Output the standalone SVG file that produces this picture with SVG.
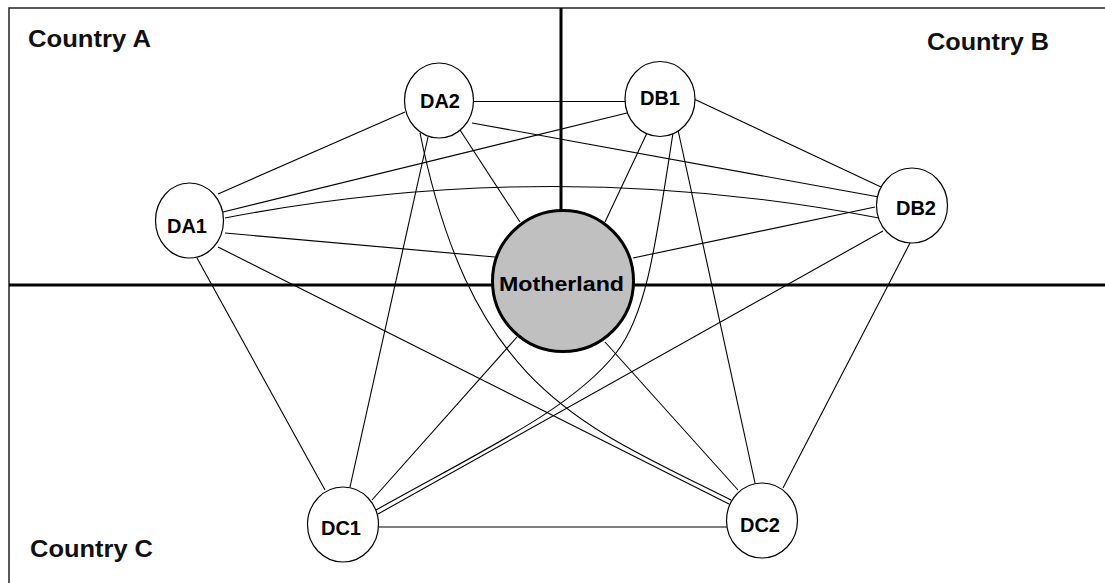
<svg xmlns="http://www.w3.org/2000/svg" width="1105" height="583" viewBox="0 0 1105 583">
  <defs>
    <style>
      .frame { fill: none; stroke: #222; stroke-width: 1.5; }
      .axis { fill: none; stroke: #000; stroke-width: 3; }
      .edge { fill: none; stroke: #000; stroke-width: 1.1; }
      .node ellipse { fill: #fff; stroke: #000; stroke-width: 1.2; }
      .hub circle { fill: #c0c0c0; stroke: #000; stroke-width: 3; }
      .label { font-family: "Liberation Sans", Arial, sans-serif; font-weight: bold; font-size: 20px; text-anchor: middle; fill: #000; }
      .region { font-family: "Liberation Sans", Arial, sans-serif; font-weight: bold; font-size: 23px; fill: #111; }
    </style>
  </defs>

  <rect x="0" y="0" width="1105" height="583" fill="#fff"/>

  <!-- outer frame (open to the right and bottom) -->
  <path class="frame" d="M9,583 V8 H1105"/>

  <!-- country dividers -->
  <g id="dividers">
    <line class="axis" x1="9" y1="285" x2="1105" y2="285"/>
    <line class="axis" x1="561" y1="8" x2="561" y2="212"/>
  </g>

  <!-- region captions -->
  <g id="regions">
    <text class="region" x="28" y="47" textLength="123" lengthAdjust="spacingAndGlyphs">Country A</text>
    <text class="region" x="927" y="50" textLength="122" lengthAdjust="spacingAndGlyphs">Country B</text>
    <text class="region" x="30" y="557" textLength="123" lengthAdjust="spacingAndGlyphs">Country C</text>
  </g>

  <!-- connectors: every pair of nodes is linked -->
  <g id="connectors">
    <line class="edge" x1="218" y1="194" x2="405" y2="112"/>   <!-- DA1-DA2 -->
    <line class="edge" x1="223" y1="212" x2="627" y2="113"/>   <!-- DA1-DB1 -->
    <path class="edge" d="M225,218 Q552,155 879,218"/>          <!-- DA1-DB2 -->
    <line class="edge" x1="197" y1="258" x2="325" y2="490"/>   <!-- DA1-DC1 -->
    <line class="edge" x1="218" y1="247" x2="729" y2="504"/>   <!-- DA1-DC2 -->
    <line class="edge" x1="225" y1="233" x2="495" y2="257"/>   <!-- DA1-Motherland -->
    <line class="edge" x1="473" y1="101.5" x2="625" y2="101.5"/> <!-- DA2-DB1 -->
    <line class="edge" x1="472" y1="123" x2="879" y2="197"/>   <!-- DA2-DB2 -->
    <line class="edge" x1="428" y1="137" x2="350" y2="487"/>   <!-- DA2-DC1 -->
    <path class="edge" d="M420,133 C472,388 579,424 731,500"/>  <!-- DA2-DC2 -->
    <line class="edge" x1="460" y1="130" x2="520" y2="222"/>   <!-- DA2-Motherland -->
    <line class="edge" x1="695" y1="99.5" x2="881" y2="187"/>  <!-- DB1-DB2 -->
    <path class="edge" d="M673,133 C656,242 647,314 616,353 C572.7,408 489.5,446.6 376,510"/> <!-- DB1-DC1 -->
    <line class="edge" x1="678" y1="130" x2="755" y2="483"/>   <!-- DB1-DC2 -->
    <line class="edge" x1="647" y1="133" x2="605" y2="222"/>   <!-- DB1-Motherland -->
    <line class="edge" x1="883" y1="231" x2="378" y2="514"/>   <!-- DB2-DC1 -->
    <line class="edge" x1="910" y1="243" x2="783" y2="488"/>   <!-- DB2-DC2 -->
    <line class="edge" x1="875" y1="207" x2="633" y2="258"/>   <!-- DB2-Motherland -->
    <line class="edge" x1="379" y1="527" x2="727" y2="527"/>   <!-- DC1-DC2 -->
    <line class="edge" x1="372" y1="500" x2="517" y2="337"/>   <!-- DC1-Motherland -->
    <line class="edge" x1="738" y1="490" x2="605" y2="342"/>   <!-- DC2-Motherland -->
  </g>

  <!-- nodes -->
  <g id="DA1" class="node">
    <ellipse cx="189.5" cy="220.5" rx="34" ry="37.5"/>
    <text class="label" x="187" y="233">DA1</text>
  </g>
  <g id="DA2" class="node">
    <ellipse cx="439" cy="100.5" rx="34.5" ry="37.5"/>
    <text class="label" x="440" y="108">DA2</text>
  </g>
  <g id="DB1" class="node">
    <ellipse cx="660" cy="99" rx="35" ry="37.5"/>
    <text class="label" x="660" y="104.5">DB1</text>
  </g>
  <g id="DB2" class="node">
    <ellipse cx="912" cy="205.5" rx="35.5" ry="37.5"/>
    <text class="label" x="916" y="215">DB2</text>
  </g>
  <g id="DC1" class="node">
    <ellipse cx="343" cy="524.5" rx="35.5" ry="37.5"/>
    <text class="label" x="341" y="535">DC1</text>
  </g>
  <g id="DC2" class="node">
    <ellipse cx="762" cy="520.5" rx="35.5" ry="37.5"/>
    <text class="label" x="760" y="532">DC2</text>
  </g>
  <g id="Motherland" class="hub">
    <circle cx="563" cy="281" r="70.5"/>
    <text class="label" x="561.5" y="291" textLength="125" lengthAdjust="spacingAndGlyphs">Motherland</text>
  </g>
</svg>
